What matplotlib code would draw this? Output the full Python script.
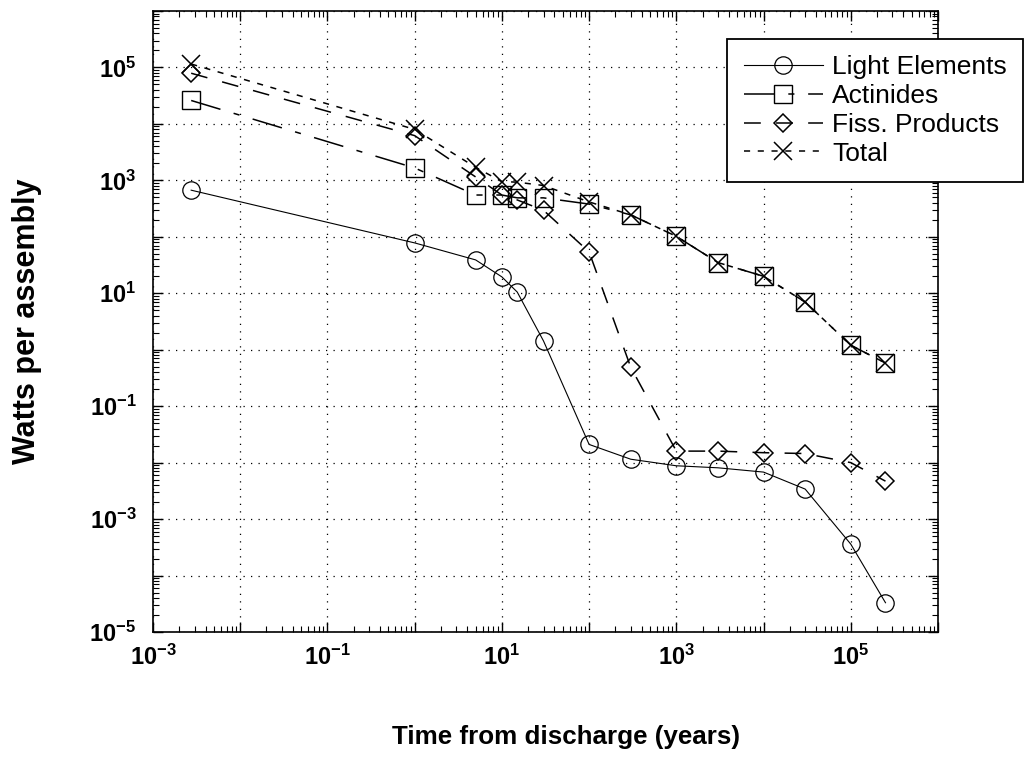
import numpy as np
import matplotlib
matplotlib.use("Agg")
import matplotlib.pyplot as plt
from matplotlib.ticker import FixedLocator, FixedFormatter, LogLocator, NullFormatter

# ---------------- data ----------------
time_years = [0.00274, 1, 5, 10, 15, 30, 100, 300, 1000, 3000, 1e4, 3e4, 1e5, 2.5e5]
light_elements = [670, 78, 39, 19.5, 10.5, 1.43, 0.021, 0.0115, 0.0088, 0.0081,
                  0.0068, 0.0034, 3.6e-4, 3.3e-5]
actinides = [2.6e4, 1660, 550, 550, 490, 490, 380, 245, 102, 35, 20, 7.0, 1.2, 0.58]
fission_products = [7.9e4, 6200, 1150, 550, 450, 295, 54, 0.49, 0.016, 0.016,
                    0.015, 0.0145, 0.010, 0.0047]
total = [1.15e5, 8000, 1700, 950, 930, 810, 415, 245, 102, 35, 20, 7.0, 1.2, 0.58]
series_names = ["Light Elements", "Actinides", "Fiss. Products", "Total"]

x_tick_exponents = [-3, -2, -1, 0, 1, 2, 3, 4, 5, 6]
x_tick_labels = [r"$10^{-3}$", "", r"$10^{-1}$", "", r"$10^{1}$", "",
                 r"$10^{3}$", "", r"$10^{5}$", ""]
y_tick_exponents = [-5, -4, -3, -2, -1, 0, 1, 2, 3, 4, 5, 6]
y_tick_labels = [r"$10^{-5}$", "", r"$10^{-3}$", "", r"$10^{-1}$", "",
                 r"$10^{1}$", "", r"$10^{3}$", "", r"$10^{5}$", ""]
x_label = "Time from discharge (years)"
y_label = "Watts per assembly"

# ---------------- style ----------------
plt.rcParams["font.family"] = ["Liberation Sans", "DejaVu Sans"]
plt.rcParams["mathtext.fontset"] = "custom"
plt.rcParams["mathtext.rm"] = "Liberation Sans:bold"
plt.rcParams["mathtext.bf"] = "Liberation Sans:bold"
plt.rcParams["mathtext.it"] = "Liberation Sans:bold"
plt.rcParams["mathtext.sf"] = "Liberation Sans:bold"

W, H = 1027, 783
fig = plt.figure(figsize=(W / 100, H / 100), dpi=100)
fig.patch.set_facecolor("white")
ax_l, ax_r, ax_t, ax_b = 153, 938, 11, 632
ax = fig.add_axes([ax_l / W, 1 - ax_b / H, (ax_r - ax_l) / W, (ax_b - ax_t) / H])

common = dict(color="black", mfc="none", mec="black")
ax.plot(time_years, light_elements, lw=0.8, marker="o", ms=12.5, mew=0.9,
        label=series_names[0], **common)
ax.plot(time_years, actinides, lw=1.1, dashes=(20, 9, 4, 9), marker="s", ms=13,
        mew=1.0, label=series_names[1], **common)
ax.plot(time_years, fission_products, lw=1.1, dashes=(11, 10), marker="D", ms=9,
        mew=1.1, label=series_names[2], **common)
ax.plot(time_years, total, lw=1.1, dashes=(4, 5), marker="x", ms=13, mew=1.1,
        label=series_names[3], **common)

ax.set_xscale("log")
ax.set_yscale("log")
ax.set_xlim(1e-3, 1e6)
ax.set_ylim(1e-5, 1e6)

ax.xaxis.set_major_locator(FixedLocator([10.0 ** e for e in x_tick_exponents]))
ax.xaxis.set_major_formatter(FixedFormatter(x_tick_labels))
ax.yaxis.set_major_locator(FixedLocator([10.0 ** e for e in y_tick_exponents]))
ax.yaxis.set_major_formatter(FixedFormatter(y_tick_labels))
for axis in (ax.xaxis, ax.yaxis):
    axis.set_minor_locator(LogLocator(base=10, subs=np.arange(2, 10) * 1.0, numticks=100))
    axis.set_minor_formatter(NullFormatter())

ax.tick_params(which="both", direction="in", top=True, right=True, colors="black")
ax.tick_params(which="major", length=7, width=1.0, labelsize=17)
ax.tick_params(which="minor", length=4, width=0.8)
ax.tick_params(axis="x", which="major", pad=9)
ax.tick_params(axis="y", which="major", pad=12)

for s in ax.spines.values():
    s.set_linewidth(1.2)
    s.set_color("black")

ax.grid(True, which="major", color="black", linestyle=(0, (1, 5)), linewidth=0.9)
ax.grid(False, which="minor")

ax.set_xlabel(x_label, fontsize=18.7, fontweight="bold")
ax.xaxis.set_label_coords((566 - ax_l) / (ax_r - ax_l), (ax_b - 725) / (ax_b - ax_t))
ax.set_ylabel(y_label, fontsize=22, fontweight="bold")
ax.yaxis.set_label_coords((42 - ax_l) / (ax_r - ax_l), 0.5)

leg = ax.legend(loc="upper right", bbox_to_anchor=(1023 / W, 1 - 39 / H),
                bbox_transform=fig.transFigure, borderaxespad=0, fontsize=19,
                handlelength=3.0, handletextpad=0.34, labelspacing=0.18,
                borderpad=0.62, numpoints=1, fancybox=False, framealpha=1,
                edgecolor="black")
leg.get_frame().set_linewidth(1.3)

fig.savefig("out.png", dpi=100, facecolor="white")
